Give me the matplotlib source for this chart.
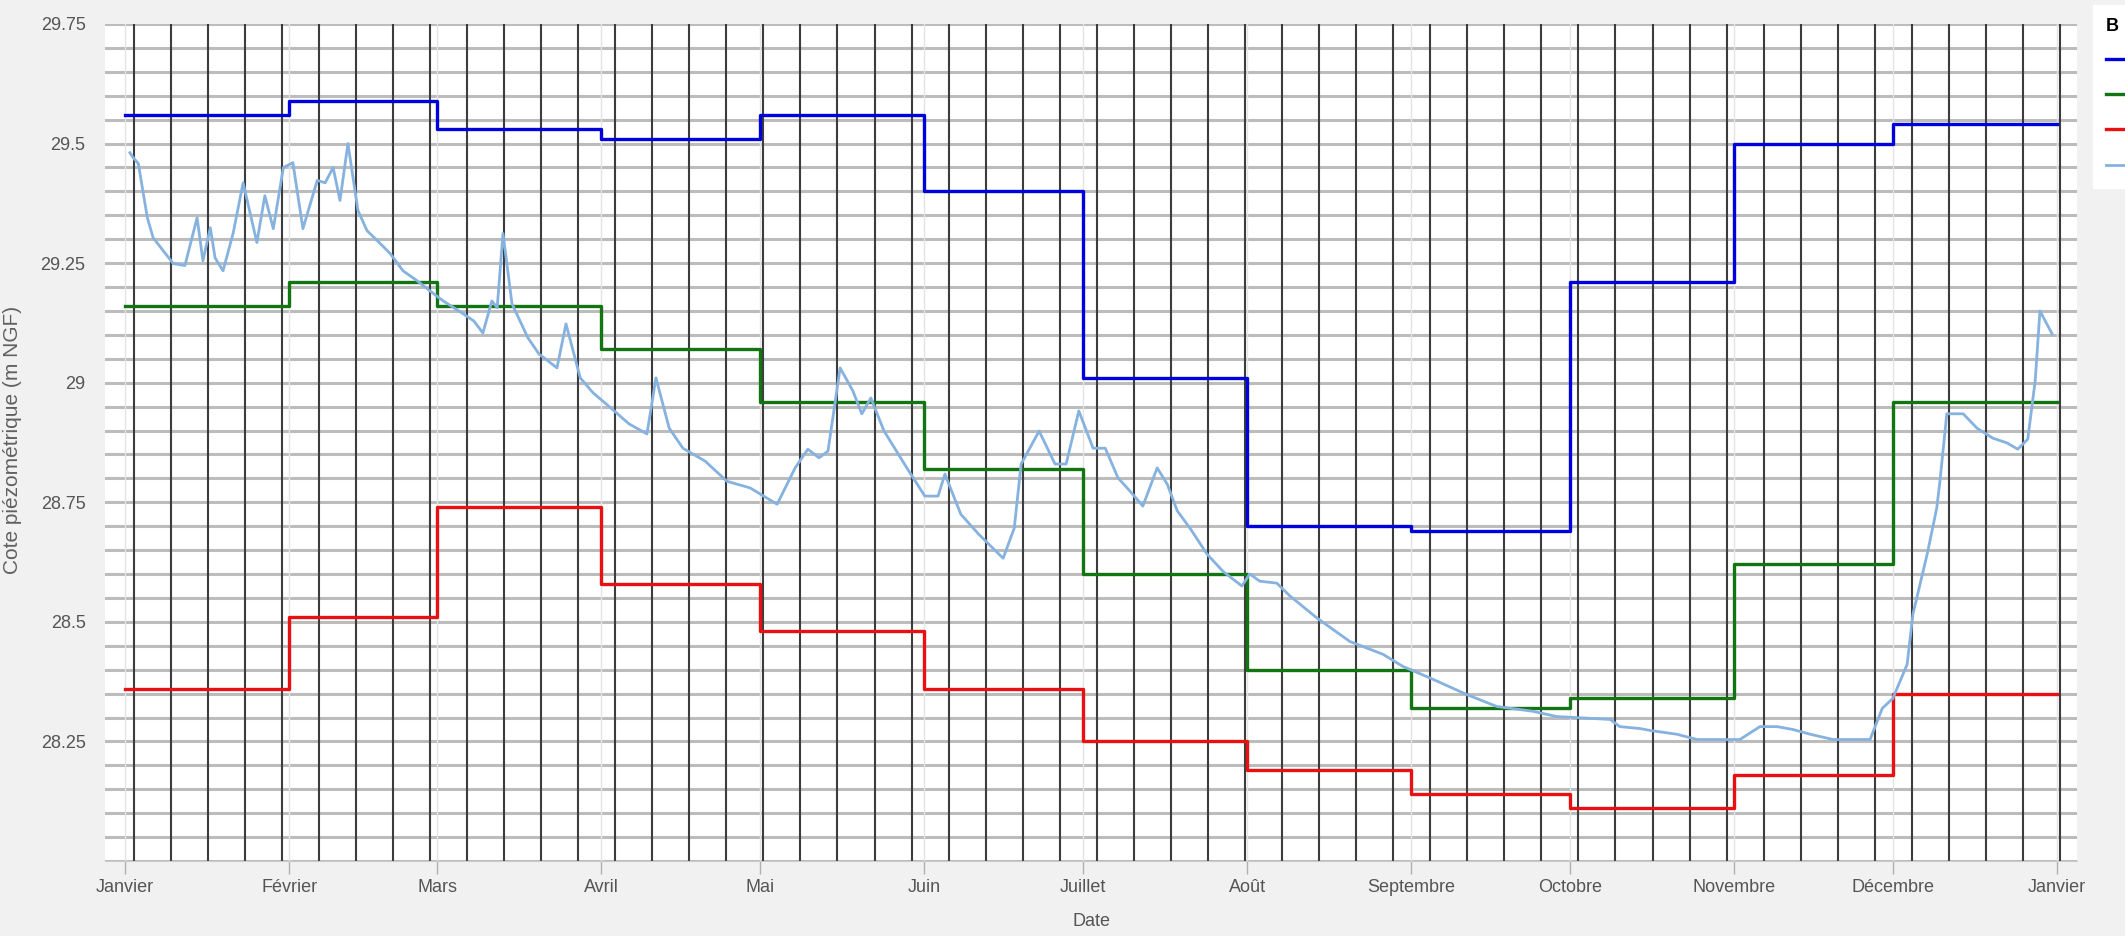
import numpy as np
import matplotlib
matplotlib.use('Agg')
import matplotlib.pyplot as plt
from matplotlib.lines import Line2D

plt.rcParams['font.family'] = ['Liberation Sans', 'DejaVu Sans']

# mois (jour de l'annee du debut de chaque mois)
mois = ['Janvier', 'Février', 'Mars', 'Avril', 'Mai', 'Juin', 'Juillet', 'Août',
        'Septembre', 'Octobre', 'Novembre', 'Décembre', 'Janvier']
debut_mois = [0, 31, 59, 90, 120, 151, 181, 212, 243, 273, 304, 334, 365]

# seuils mensuels (m NGF)
haut = [29.56, 29.59, 29.53, 29.51, 29.56, 29.40, 29.01, 28.70, 28.69, 29.21, 29.50, 29.54]
moyen = [29.16, 29.21, 29.16, 29.07, 28.96, 28.82, 28.60, 28.40, 28.32, 28.34, 28.62, 28.96]
bas = [28.36, 28.51, 28.74, 28.58, 28.48, 28.36, 28.25, 28.19, 28.14, 28.11, 28.18, 28.35]

# niveau mesure
jours = [0.9, 1.5, 2.5, 4.2, 5.3, 7.2, 9.1, 11.3, 13.6, 14.7, 16.1, 17.0, 18.5, 20.4, 22.3,
         24.9, 26.4, 28.0, 29.9, 31.7, 33.6, 36.3, 37.8, 39.3, 40.6, 42.1, 44.0, 45.7, 48.2,
         50.1, 52.5, 55.2, 57.6, 60.1, 63.9, 65.9, 67.6, 69.3, 70.3, 71.4, 73.1, 76.1, 78.2,
         81.6, 83.3, 86.0, 88.4, 91.8, 95.2, 98.6, 100.3, 102.8, 105.4, 109.6, 113.7, 118.1,
         123.2, 126.6, 129.0, 131.1, 132.8, 135.1, 137.5, 139.2, 140.9, 143.4, 147.7, 151.1,
         153.6, 154.9, 157.9, 161.3, 165.9, 168.0, 169.3, 172.7, 175.7, 177.8, 180.2, 182.9,
         185.2, 187.6, 189.9, 192.3, 195.0, 196.9, 198.8, 201.2, 204.4, 207.4, 211.0, 212.5,
         214.4, 217.6, 220.1, 225.2, 231.4, 237.7, 241.4, 247.1, 253.5, 259.2, 266.0, 270.5,
         280.6, 282.4, 286.2, 288.1, 293.2, 297.0, 305.1, 308.9, 312.1, 315.1, 318.4, 322.7,
         329.7, 332.0, 334.0, 336.7, 337.8, 340.5, 342.3, 342.9, 344.2, 347.3, 349.9, 352.9,
         355.6, 357.6, 359.5, 360.9, 361.8, 364.1]
cote = [29.481, 29.471, 29.458, 29.345, 29.303, 29.276, 29.249, 29.245, 29.345, 29.255,
        29.324, 29.261, 29.234, 29.312, 29.418, 29.293, 29.391, 29.322, 29.450, 29.460,
        29.322, 29.423, 29.418, 29.450, 29.381, 29.500, 29.360, 29.318, 29.291, 29.270,
        29.234, 29.213, 29.192, 29.171, 29.144, 29.129, 29.104, 29.171, 29.157, 29.312,
        29.165, 29.094, 29.060, 29.031, 29.123, 29.010, 28.979, 28.947, 28.914, 28.893,
        29.010, 28.905, 28.863, 28.836, 28.794, 28.780, 28.746, 28.822, 28.861, 28.843,
        28.857, 29.031, 28.983, 28.935, 28.968, 28.899, 28.822, 28.763, 28.763, 28.809,
        28.725, 28.683, 28.633, 28.696, 28.830, 28.899, 28.830, 28.830, 28.941, 28.863,
        28.863, 28.801, 28.773, 28.742, 28.822, 28.788, 28.732, 28.696, 28.642, 28.606,
        28.575, 28.600, 28.585, 28.581, 28.554, 28.508, 28.459, 28.432, 28.407, 28.380,
        28.348, 28.323, 28.313, 28.302, 28.296, 28.281, 28.277, 28.273, 28.265, 28.254,
        28.254, 28.281, 28.281, 28.275, 28.265, 28.254, 28.254, 28.319, 28.340, 28.411,
        28.516, 28.642, 28.738, 28.794, 28.935, 28.935, 28.905, 28.884, 28.874, 28.861,
        28.882, 29.004, 29.150, 29.102]

W, H = 2125, 936
fig = plt.figure(figsize=(W / 100, H / 100), dpi=100, facecolor='#f1f1f1')
ax = fig.add_axes([105 / W, 1 - 861 / H, (2077 - 105) / W, (861 - 24) / H])
ax.set_facecolor('white')

ax.set_xlim(-3.8, 368.8)
ax.set_ylim(28.0, 29.75)

# quadrillage
for y in np.arange(28.0, 29.76, 0.05):
    ax.axhline(y, color='#bcbcbc', lw=2.2, zorder=0.5)
for x in debut_mois:
    ax.axvline(x, color='#e4e4e4', lw=1.0, zorder=0.6)
for x in np.arange(1.6, 366, 7):
    ax.axvline(x, color='#3c3c3c', lw=1.5, zorder=0.7)

ax.step(debut_mois, haut + haut[-1:], where='post', color='#0000dd', lw=2.4, zorder=3)
ax.step(debut_mois, moyen + moyen[-1:], where='post', color='#127512', lw=2.4, zorder=3)
ax.step(debut_mois, bas + bas[-1:], where='post', color='#e81010', lw=2.4, zorder=3)
ax.plot(jours, cote, color='#86b2e0', lw=2.0, zorder=4)

ax.set_xticks(debut_mois)
ax.set_xticklabels(mois)
ax.set_yticks([28.25, 28.5, 28.75, 29.0, 29.25, 29.5, 29.75])
ax.set_yticklabels(['28.25', '28.5', '28.75', '29', '29.25', '29.5', '29.75'])
ax.tick_params(axis='x', length=9, width=1, color='#b0b0b0', pad=4,
               labelsize=13, labelcolor='#555555')
ax.tick_params(axis='y', length=0, pad=14, labelsize=13, labelcolor='#555555')

for s in ['top', 'right', 'left']:
    ax.spines[s].set_visible(False)
ax.spines['bottom'].set_color('#cccccc')

ax.set_xlabel('Date', fontsize=13, color='#555555')
ax.xaxis.set_label_coords(0.5, -(913 - 861) / 837)
ax.set_ylabel('Cote piézométrique (m NGF)', fontsize=15, color='#606060')
ax.yaxis.set_label_coords(-(105 - 22) / 1972, (861 - 440) / 837)

# legende coupee au bord droit de l'image, comme sur l'original
handles = [Line2D([], [], color=c, lw=lw) for c, lw in
           [('#0000dd', 2.4), ('#127512', 2.4), ('#e81010', 2.4), ('#86b2e0', 2.0)]]
leg = fig.legend(handles, [' ' * 12] * 4,
                 title='B', loc='upper left', bbox_to_anchor=(2093 / W, 1 - 5 / H),
                 borderaxespad=0, alignment='left', fontsize=13, title_fontsize=13,
                 frameon=True, fancybox=False, edgecolor='white', framealpha=1,
                 handlelength=1.5, labelspacing=1.0, borderpad=0.7)
leg.get_title().set_fontweight('bold')

fig.savefig('out.png', dpi=100, facecolor=fig.get_facecolor())
